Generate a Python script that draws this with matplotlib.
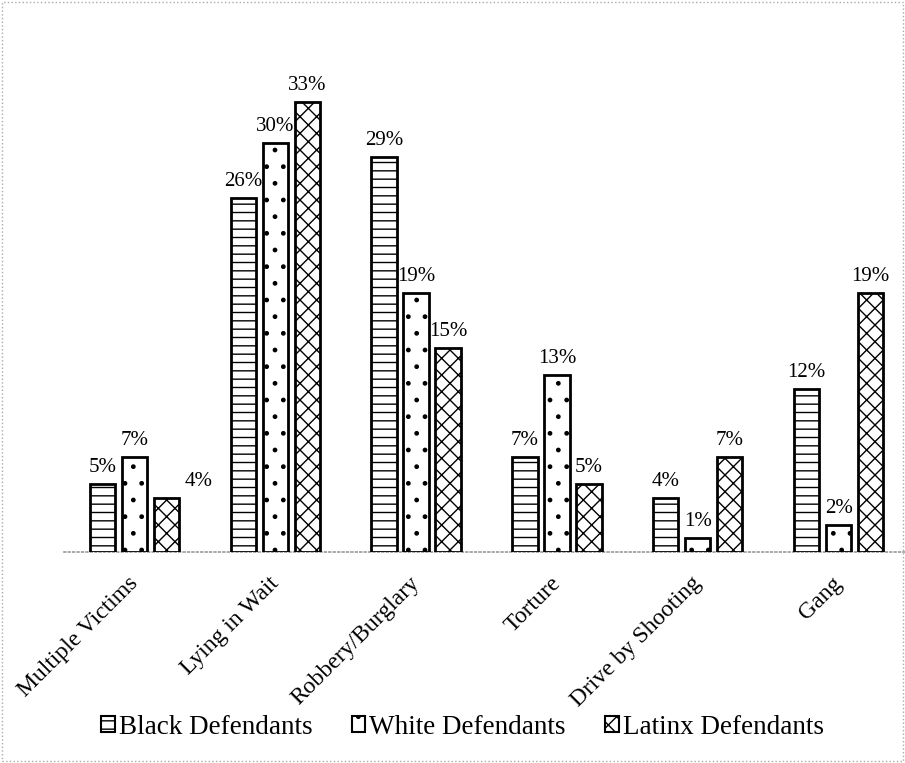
import matplotlib
matplotlib.use("Agg")
import matplotlib.pyplot as plt
import matplotlib.transforms as mtransforms
import numpy as np
from matplotlib.patches import Rectangle, Patch

categories = ["Multiple Victims", "Lying in Wait", "Robbery/Burglary", "Torture", "Drive by Shooting", "Gang"]
series_names = ["Black Defendants", "White Defendants", "Latinx Defendants"]
black = [5, 26, 29, 7, 4, 12]
white = [7, 30, 19, 13, 1, 2]
latinx = [4, 33, 15, 5, 7, 19]

plt.rcParams['font.family'] = ['Liberation Serif', 'DejaVu Serif']
plt.rcParams['hatch.linewidth'] = 1.0
plt.rcParams['hatch.color'] = 'black'

fig = plt.figure(figsize=(9.05, 7.63), dpi=100)
ax = fig.add_axes([64/905, 0.2765, 845/905, 0.625])

x = np.arange(len(categories))
step = 0.227
width = 0.18
hatches = ['--', '.', 'xx']
series = [black, white, latinx]
for i, (vals, h) in enumerate(zip(series, hatches)):
    pos = x + (i - 1) * step
    ax.bar(pos, vals, width, facecolor='white', edgecolor='black', linewidth=2.0, hatch=h, zorder=3)
    for j, (p, v) in enumerate(zip(pos, vals)):
        dx = 0.0
        if i == 2 and j == 0:
            dx = 0.23
        ax.annotate(f"{v}%", (p + dx, v), xytext=(0, 7), textcoords='offset pixels',
                    ha='center', va='bottom', fontsize=15)

ax.set_xlim(-0.5, len(categories) - 0.5)
ax.set_ylim(0, 35)
ax.set_yticks([])
ax.set_xticks(x)
ax.set_xticklabels(categories, rotation=45, ha='right', rotation_mode='anchor', fontsize=17)
ax.tick_params(axis='x', length=0, pad=15)
offset = mtransforms.ScaledTranslation(-7/100, 0, fig.dpi_scale_trans)
for lbl in ax.get_xticklabels():
    lbl.set_transform(lbl.get_transform() + offset)
for s in ['top', 'right', 'left']:
    ax.spines[s].set_visible(False)
ax.spines['bottom'].set_linestyle(':')
ax.spines['bottom'].set_color('#999999')
ax.spines['bottom'].set_linewidth(1.2)

handles = [Patch(facecolor='white', edgecolor='black', hatch=h, linewidth=1.5) for h in hatches]
leg = fig.legend(handles, series_names, loc='center', bbox_to_anchor=(0.511, 0.047), ncol=3,
                 frameon=False, fontsize=19.5, handlelength=0.5, handleheight=0.5,
                 handletextpad=0.15, columnspacing=1.45)

fig.patches.append(Rectangle((0.002, 0.002), 0.996, 0.996, transform=fig.transFigure,
                             fill=False, edgecolor='#aaaaaa', linestyle=':', linewidth=1.0))

fig.savefig("out.png", dpi=100, facecolor='white')
